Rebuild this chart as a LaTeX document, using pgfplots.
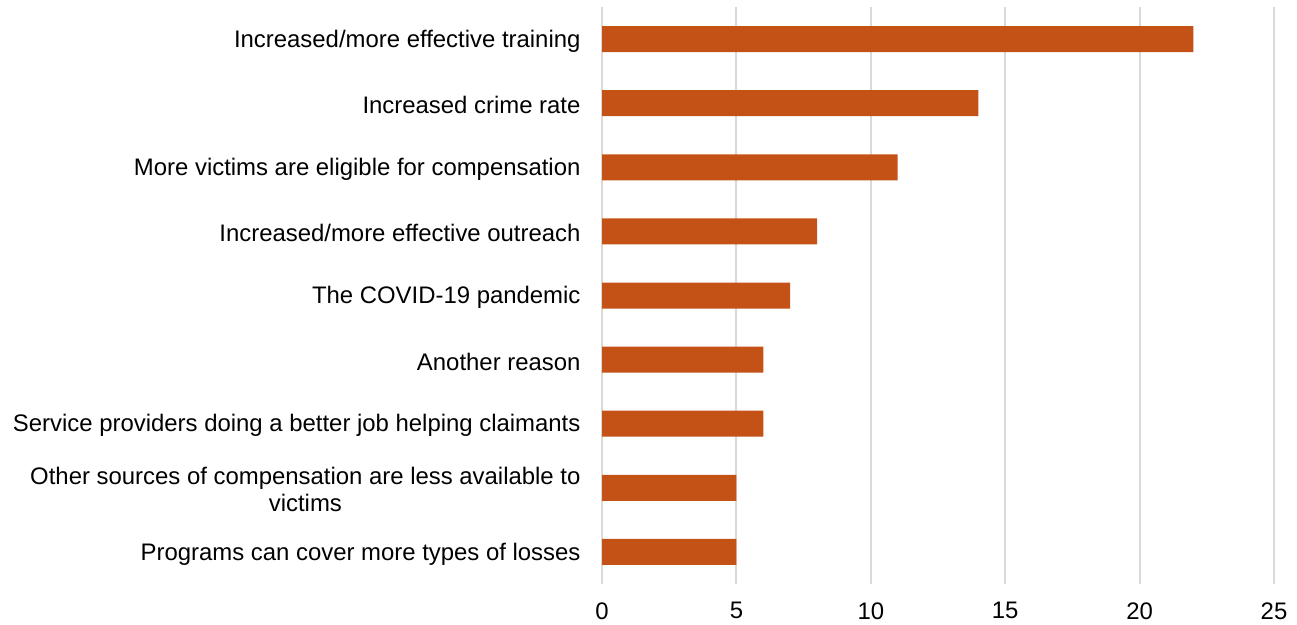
\documentclass[border=0pt]{standalone}
\usepackage{fontspec}
\setmainfont{Liberation Sans}
\usepackage{pgfplots}
\pgfplotsset{compat=1.18}
\definecolor{barc}{RGB}{196,81,22}
\definecolor{gridc}{RGB}{217,217,217}
\begin{document}
\begin{tikzpicture}
\path[use as bounding box] (0,0) rectangle (1297bp,625bp);
\begin{axis}[
  at={(602bp,41bp)}, anchor=south west,
  scale only axis,
  width=672bp, height=577bp,
  xbar, bar width=26bp,
  xmin=0, xmax=25,
  ymin=-0.5, ymax=8.5,
  y dir=reverse,
  axis line style={draw=none},
  major tick length=0pt,
  xtick={0,5,10,15,20,25},
  ytick={0,...,8},
  yticklabels={Increased/more effective training,
    Increased crime rate,
    More victims are eligible for compensation,
    Increased/more effective outreach,
    The COVID-19 pandemic,
    Another reason,
    Service providers doing a better job helping claimants,
    {Other sources of compensation are less available to\\victims},
    Programs can cover more types of losses},
  yticklabel style={align=center, font=\fontsize{24}{27}\selectfont, xshift=-18bp, yshift=-2bp},
  xticklabel style={font=\fontsize{24}{27}\selectfont, yshift=-15bp},
  /pgf/number format/assume math mode=true,
  xmajorgrids, grid style={gridc, line width=2bp},
  clip=false,
]
\addplot[fill=barc, draw=none] coordinates {
  (22,0) (14,1) (11,2) (8,3) (7,4) (6,5) (6,6) (5,7) (5,8)
};
\end{axis}
\end{tikzpicture}
\end{document}
